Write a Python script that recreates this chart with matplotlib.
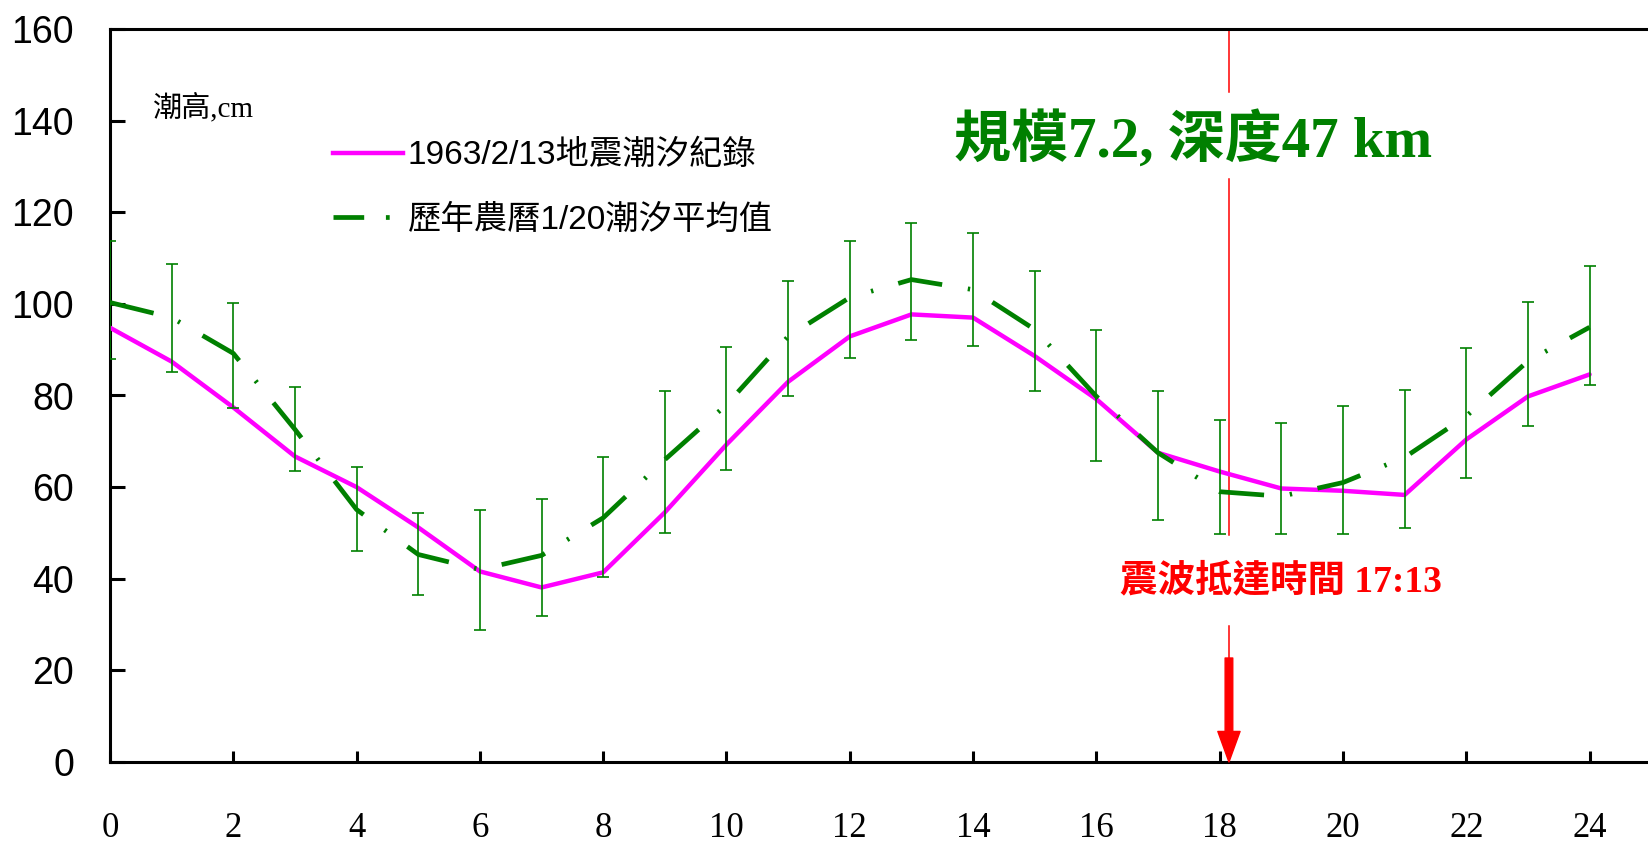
import matplotlib
matplotlib.use("Agg")
import matplotlib.pyplot as plt
from matplotlib.lines import Line2D

# ---- data ----
hours = list(range(25))
record_1963 = [94.8, 87.4, 77.4, 66.7, 60.0, 51.2, 41.6, 38.1, 41.4, 54.5, 69.3, 83.0,
               92.9, 97.7, 97.0, 88.6, 79.2, 67.5, 63.4, 59.7, 59.2, 58.3, 70.4, 79.8, 84.6]
mean_120 = [100.3, 97.0, 89.2, 72.6, 55.1, 45.3, 42.0, 45.1, 53.3, 66.0, 78.0, 92.9,
            101.4, 105.3, 103.1, 94.4, 79.8, 67.5, 59.0, 58.0, 61.0, 66.5, 75.5, 87.5, 94.9]
err_upper = [113.7, 108.6, 100.1, 81.8, 64.3, 54.3, 55.1, 57.5, 66.5, 80.9, 90.5, 105.1,
             113.7, 117.6, 115.4, 107.1, 94.2, 80.9, 74.6, 73.9, 77.6, 81.3, 90.3, 100.5, 108.2]
err_lower = [88.0, 85.2, 77.2, 63.6, 46.0, 36.4, 28.9, 31.8, 40.3, 49.9, 63.7, 79.8,
             88.1, 92.2, 90.9, 80.9, 65.6, 52.8, 49.7, 49.7, 49.7, 51.0, 61.9, 73.3, 82.4]
x_ticks = list(range(0, 25, 2))
y_ticks = list(range(0, 161, 20))
quake_x = 18.15

label_rec = "1963/2/13地震潮汐紀錄"
label_mean = "歷年農曆1/20潮汐平均值"
title_txt = "規模7.2, 深度47 km"
arrive_txt = "震波抵達時間 17:13"
ylabel_txt = "潮高,cm"

PINK = "#FF00FF"
GREEN = "#008000"
RED = "#FF0000"

W, H = 1649, 847
fig = plt.figure(figsize=(W / 100, H / 100), dpi=100)
ax = fig.add_axes([110 / W, 85 / H, 1 - 110 / W, (762 - 29) / H])
ax.set_xlim(0, (W - 110) / 61.65)
ax.set_ylim(0, 160)

# record line
ax.plot(hours, record_1963, color=PINK, lw=3.2, solid_joinstyle="round",
        solid_capstyle="round", zorder=3)

# mean with error bars
yerr = [[m - lo for m, lo in zip(mean_120, err_lower)],
        [up - m for m, up in zip(mean_120, err_upper)]]
ax.errorbar(hours, mean_120, yerr=yerr, fmt="none", ecolor=GREEN,
            elinewidth=1.2, capsize=4.5, capthick=1.2, zorder=4)
ax.plot(hours, mean_120, color=GREEN, lw=3.4, linestyle=(0, (9.5, 5.5, 0.5, 5.5)), zorder=5)

# quake arrival line (broken around the texts) and arrow
ax.plot([quake_x, quake_x], [160, 146.3], color=RED, lw=1.1, zorder=2)
ax.plot([quake_x, quake_x], [127.3, 49.6], color=RED, lw=1.1, zorder=2)
ax.plot([quake_x, quake_x], [29.7, 22.0], color=RED, lw=1.1, zorder=2)
ax.annotate("", xy=(quake_x, 0), xytext=(quake_x, 22.7),
            arrowprops=dict(facecolor=RED, edgecolor=RED, width=5.5,
                            headwidth=16, headlength=22, shrink=0),
            zorder=6)

# texts
ax.text(17.57, 135.8, title_txt, color=GREEN, fontsize=41, fontweight="bold",
        family=["Liberation Serif", "Noto Sans CJK TC"], ha="center", va="center")
ax.text(19.0, 39.4, arrive_txt, color=RED, fontsize=27, fontweight="bold",
        family=["Liberation Serif", "Noto Sans CJK TC"], ha="center", va="center")
ax.text(0.68, 142.9, ylabel_txt, color="black", fontsize=21,
        family=["Liberation Serif", "Noto Sans CJK TC"], ha="left", va="center")

# legend
handles = [Line2D([], [], color=PINK, lw=3.2),
           Line2D([], [], color=GREEN, lw=3.4, linestyle=(0, (6.5, 4.6, 0.8, 5)))]
leg = ax.legend(handles, [label_rec, label_mean], loc="upper left",
                bbox_to_anchor=(333 / W, 1 - 140 / H), bbox_transform=fig.transFigure,
                frameon=False, borderpad=0, borderaxespad=0, handlelength=2.1,
                handletextpad=0.15, labelspacing=1.0,
                prop=dict(family=["Liberation Sans", "Noto Sans CJK TC"], size=24))

# axes styling
for side in ["left", "bottom", "top"]:
    ax.spines[side].set_linewidth(2.2)
ax.spines["right"].set_visible(False)
ax.set_xticks(x_ticks)
ax.set_yticks(y_ticks)
ax.tick_params(axis="y", direction="in", length=11, width=2.2, pad=26, labelsize=27)
ax.tick_params(axis="x", direction="in", length=8, width=2.2, pad=36, labelsize=25)
for lab in ax.get_yticklabels():
    lab.set_family("Liberation Sans")
for lab in ax.get_xticklabels():
    lab.set_family("Liberation Serif")

fig.savefig("out.png", dpi=100)
